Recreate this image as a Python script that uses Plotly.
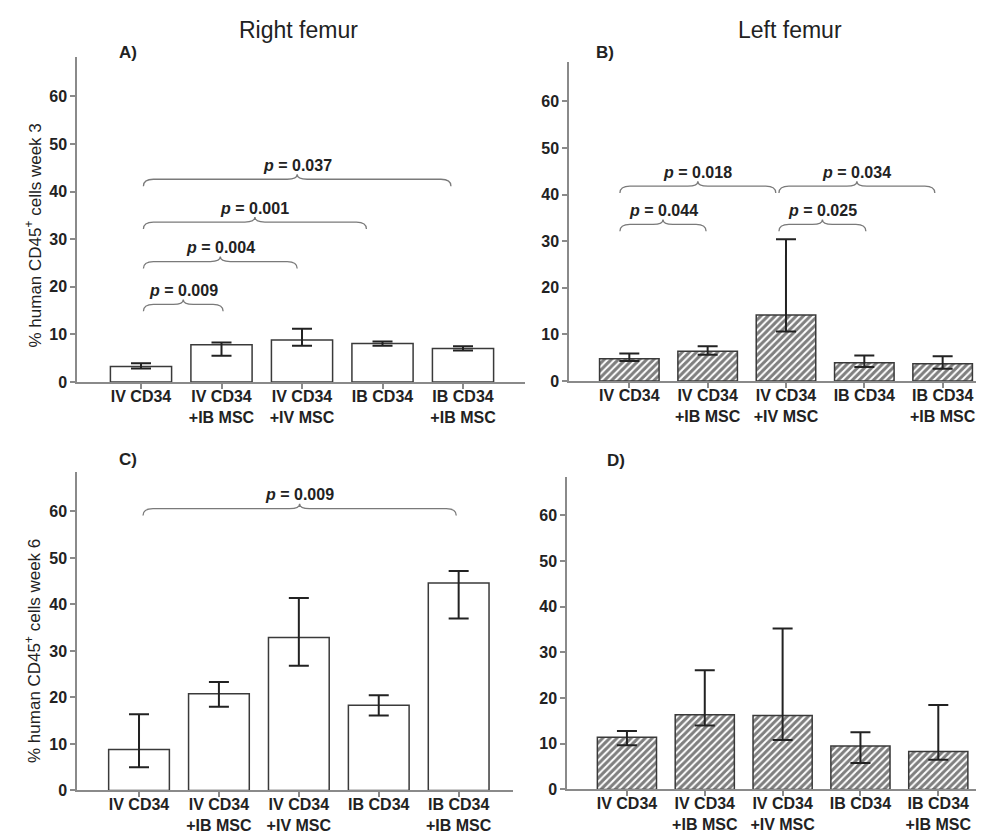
import plotly.graph_objects as go

W, H = 984, 834

categories = ["IV CD34", "IV CD34<br>+IB MSC", "IV CD34<br>+IV MSC", "IB CD34", "IB CD34<br>+IB MSC"]

# Panel A: right femur, week 3
a_mean = [3.25, 7.8, 8.8, 8.1, 7.05]
a_upper = [3.9, 8.3, 11.2, 8.5, 7.5]
a_lower = [2.8, 5.5, 7.6, 7.6, 6.6]

# Panel B: left femur, week 3
b_mean = [4.75, 6.35, 14.15, 3.9, 3.7]
b_upper = [5.9, 7.45, 30.4, 5.45, 5.3]
b_lower = [4.3, 5.6, 10.6, 3.0, 2.6]

# Panel C: right femur, week 6
c_mean = [8.8, 20.8, 32.9, 18.3, 44.6]
c_upper = [16.4, 23.3, 41.4, 20.5, 47.2]
c_lower = [5.0, 18.0, 26.8, 16.1, 37.0]

# Panel D: left femur, week 6
d_mean = [11.4, 16.35, 16.2, 9.5, 8.3]
d_upper = [12.8, 26.1, 35.2, 12.5, 18.5]
d_lower = [9.7, 14.0, 10.8, 5.8, 6.5]

yticks = [0, 10, 20, 30, 40, 50, 60]

# Comparisons: (brace start, brace end, brace level, p-value)
a_comp = [(0.03, 1.02, 16.3, "0.009"), (0.03, 1.94, 25.3, "0.004"),
          (0.03, 2.80, 33.6, "0.001"), (0.03, 3.85, 42.6, "0.037")]
b_comp = [(-0.12, 0.98, 33.6, "0.044"), (-0.12, 1.87, 41.8, "0.018"),
          (1.91, 3.02, 33.6, "0.025"), (1.91, 3.90, 41.8, "0.034")]
c_comp = [(0.05, 3.97, 60.6, "0.009")]
d_comp = []

FONT = "Liberation Sans, Arial, sans-serif"
AX = "#8a8a8a"
TXT = "#222222"

# panel geometry in pixels: (x_left, x_right, y_top, y_bottom), x range, y max
panels = [
    dict(name="A", mean=a_mean, up=a_upper, lo=a_lower, comp=a_comp, hatch=False,
         px=(69, 517, 50, 378), xr=(-0.795, 4.77), ymax=68.2),
    dict(name="B", mean=b_mean, up=b_upper, lo=b_lower, comp=b_comp, hatch=True,
         px=(561, 984, 55, 377), xr=(-0.77, 4.63), ymax=68.35),
    dict(name="C", mean=c_mean, up=c_upper, lo=c_lower, comp=c_comp, hatch=False,
         px=(69, 505, 469, 791), xr=(-0.776, 4.68), ymax=68.5),
    dict(name="D", mean=d_mean, up=d_upper, lo=d_lower, comp=d_comp, hatch=True,
         px=(559, 984, 474, 790), xr=(-0.77, 4.69), ymax=68.4),
]

fig = go.Figure()
shapes = []
annotations = []
xs = list(range(len(categories)))

for i, p in enumerate(panels):
    n = "" if i == 0 else str(i + 1)
    xl, xr_, yt, yb = p["px"]
    up = [u - m for u, m in zip(p["up"], p["mean"])]
    dn = [m - l for l, m in zip(p["lo"], p["mean"])]
    marker = dict(color="white", line=dict(color="#3a3a3a", width=1.5))
    if p["hatch"]:
        marker["pattern"] = dict(shape="/", fgcolor="#000000", bgcolor="white",
                                 size=5, solidity=0.6)
    fig.add_trace(go.Bar(
        x=xs, y=p["mean"], width=0.76, marker=marker,
        error_y=dict(type="data", symmetric=False, array=up, arrayminus=dn,
                     color="#222222", thickness=2, width=10),
        xaxis="x" + n, yaxis="y" + n, showlegend=False))

    fig.layout["xaxis" + n] = dict(
        domain=[xl / W, xr_ / W], range=list(p["xr"]), anchor="y" + n,
        tickvals=xs, ticktext=["<b>" + c + "</b>" for c in categories],
        tickfont=dict(family=FONT, size=16, color=TXT),
        showline=True, linecolor=AX, linewidth=1.5, ticks="outside",
        ticklen=5, tickcolor=AX, tickwidth=1.5, showgrid=False, zeroline=False,
        ticklabelstandoff=-6, fixedrange=True)
    fig.layout["yaxis" + n] = dict(
        domain=[1 - yb / H, 1 - yt / H], range=[0, p["ymax"]], anchor="x" + n,
        tickvals=yticks, ticktext=["<b>%d</b>" % v for v in yticks],
        tickfont=dict(family=FONT, size=16, color=TXT),
        showline=True, linecolor=AX, linewidth=1.5, ticks="outside",
        ticklen=5, tickcolor=AX, tickwidth=1.5, showgrid=False, zeroline=False,
        fixedrange=True)

    # braces with p-values
    pxcat = (xr_ - xl) / (p["xr"][1] - p["xr"][0])
    pxunit = (yb - yt) / p["ymax"]
    d = 10 / pxcat
    tip = 7 / pxunit
    pk = 5 / pxunit
    for (x0, x1, y, lab) in p["comp"]:
        xc = (x0 + x1) / 2
        path = (f"M {x0},{y - tip} Q {x0},{y} {x0 + d},{y} L {xc - d},{y} "
                f"Q {xc},{y} {xc},{y + pk} Q {xc},{y} {xc + d},{y} L {x1 - d},{y} "
                f"Q {x1},{y} {x1},{y - tip}")
        shapes.append(dict(type="path", path=path, xref="x" + n, yref="y" + n,
                           line=dict(color="#7a7a7a", width=1.3)))
        annotations.append(dict(x=xc, y=y, xref="x" + n, yref="y" + n,
                                text=f"<b><i>p</i> = {lab}</b>", showarrow=False,
                                yshift=14, xanchor="center", yanchor="middle",
                                font=dict(family=FONT, size=16, color=TXT)))

# panel letters
for lab, (x, y) in zip(["A)", "B)", "C)", "D)"], [(120, 45), (597, 45), (120, 456), (608, 457)]):
    annotations.append(dict(x=x / W, y=1 - y / H, xref="paper", yref="paper", text=f"<b>{lab}</b>",
                            showarrow=False, xanchor="center", yanchor="middle",
                            font=dict(family=FONT, size=17, color=TXT)))

# column titles
for lab, x in [("Right femur", 290), ("Left femur", 782)]:
    annotations.append(dict(x=x / W, y=1 - 22 / H, xref="paper", yref="paper", text=lab,
                            showarrow=False, xanchor="center", yanchor="middle",
                            font=dict(family=FONT, size=23, color=TXT)))

# y-axis titles
for lab, y in [("% human CD45<sup>+</sup> cells week 3", 230), ("% human CD45<sup>+</sup> cells week 6", 650)]:
    annotations.append(dict(x=25 / W, y=1 - y / H, xref="paper", yref="paper", text=lab,
                            showarrow=False, textangle=-90, xanchor="center", yanchor="middle",
                            font=dict(family=FONT, size=17, color=TXT)))

fig.update_layout(width=W, height=H, margin=dict(l=0, r=0, t=0, b=0),
                  paper_bgcolor="white", plot_bgcolor="white",
                  shapes=shapes, annotations=annotations, bargap=0.2)

fig.write_html("out.html")
